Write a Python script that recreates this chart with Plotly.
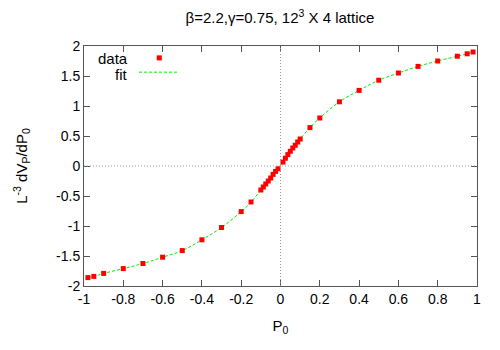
import plotly.graph_objects as go

# P0 values and L^-3 dVp/dP0
p0 = [-0.98, -0.95, -0.9, -0.8, -0.7, -0.6, -0.5, -0.4, -0.3, -0.2, -0.15,
      -0.1, -0.0875, -0.075, -0.0625, -0.05, -0.0375, -0.025, -0.0125,
      0.0125, 0.025, 0.0375, 0.05, 0.0625, 0.075, 0.0875, 0.1,
      0.15, 0.2, 0.3, 0.4, 0.5, 0.6, 0.7, 0.8, 0.9, 0.95, 0.98]
dvp = [-1.86, -1.84, -1.79, -1.71, -1.625, -1.52, -1.41, -1.23, -1.025, -0.76, -0.60,
       -0.40, -0.35, -0.30, -0.25, -0.20, -0.14, -0.09, -0.045,
       0.065, 0.13, 0.19, 0.245, 0.30, 0.345, 0.40, 0.45,
       0.64, 0.80, 1.07, 1.26, 1.43, 1.55, 1.66, 1.75, 1.83, 1.87, 1.90]

x_ticks = [-1, -0.8, -0.6, -0.4, -0.2, 0, 0.2, 0.4, 0.6, 0.8, 1]
x_labels = ['-1', '-0.8', '-0.6', '-0.4', '-0.2', '0', '0.2', '0.4', '0.6', '0.8', '1']
y_ticks = [-2, -1.5, -1, -0.5, 0, 0.5, 1, 1.5, 2]
y_labels = ['-2', '-1.5', '-1', '-0.5', '0', '0.5', '1', '1.5', '2']

FONT = 'Liberation Sans'


def main():
    fig = go.Figure()

    # fit: smooth dashed green curve through the points
    fig.add_trace(go.Scatter(
        x=p0, y=dvp, mode='lines', name='fit',
        line=dict(color='#00ee00', width=1, dash='3px,2px', shape='spline'),
    ))
    fig.add_trace(go.Scatter(
        x=p0, y=dvp, mode='markers', name='data',
        marker=dict(symbol='square', size=5, color='#ff0000'),
    ))

    # dotted zero axes
    fig.add_hline(y=0, line=dict(color='#999999', width=1, dash='1px,2px'))
    fig.add_vline(x=0, line=dict(color='#999999', width=1, dash='1px,2px'))

    axis_common = dict(
        showgrid=False, zeroline=False, showline=True, linecolor='#555555',
        linewidth=1, mirror='ticks', ticks='inside', ticklen=6,
        tickcolor='#555555', automargin=False,
        tickfont=dict(family=FONT, size=14, color='black'),
    )

    fig.update_layout(
        width=500, height=350,
        paper_bgcolor='white', plot_bgcolor='white',
        margin=dict(l=76, r=31, t=38, b=72),
        showlegend=False,
        font=dict(family=FONT, size=14, color='black'),
        title=dict(
            text='\u03b2=2.2,\u03b3=0.75, 12<sup>3</sup> X 4 lattice',
            x=0.544, xanchor='center', y=0.972, yanchor='middle',
            font=dict(family=FONT, size=15), automargin=False,
        ),
        xaxis=dict(
            range=[-1, 1], tickvals=x_ticks, ticktext=x_labels,
            title=dict(text='P<sub>0</sub>', standoff=14,
                       font=dict(family=FONT, size=15)),
            **axis_common,
        ),
        yaxis=dict(
            range=[-2, 2], tickvals=y_ticks, ticktext=y_labels,
            title=dict(text='L<sup>-3</sup> dV<sub>P</sub>/dP<sub>0</sub>',
                       standoff=24, font=dict(family=FONT, size=15)),
            **axis_common,
        ),
    )

    # hand-made gnuplot style key (text left, sample right)
    fig.add_annotation(text='data', xref='paper', yref='paper', x=0.117, y=0.95,
                       xanchor='right', yanchor='middle', showarrow=False,
                       font=dict(family=FONT, size=15))
    fig.add_annotation(text='fit', xref='paper', yref='paper', x=0.117, y=0.883,
                       xanchor='right', yanchor='middle', showarrow=False,
                       font=dict(family=FONT, size=15))
    fig.add_shape(type='rect', xref='paper', yref='paper',
                  x0=0.185, x1=0.198, y0=0.940, y1=0.961,
                  line=dict(width=0), fillcolor='#ff0000')
    fig.add_shape(type='line', xref='paper', yref='paper',
                  x0=0.140, x1=0.242, y0=0.891, y1=0.891,
                  line=dict(color='#00ee00', width=1, dash='3px,2px'))

    fig.write_html('out.html')


if __name__ == '__main__':
    main()
